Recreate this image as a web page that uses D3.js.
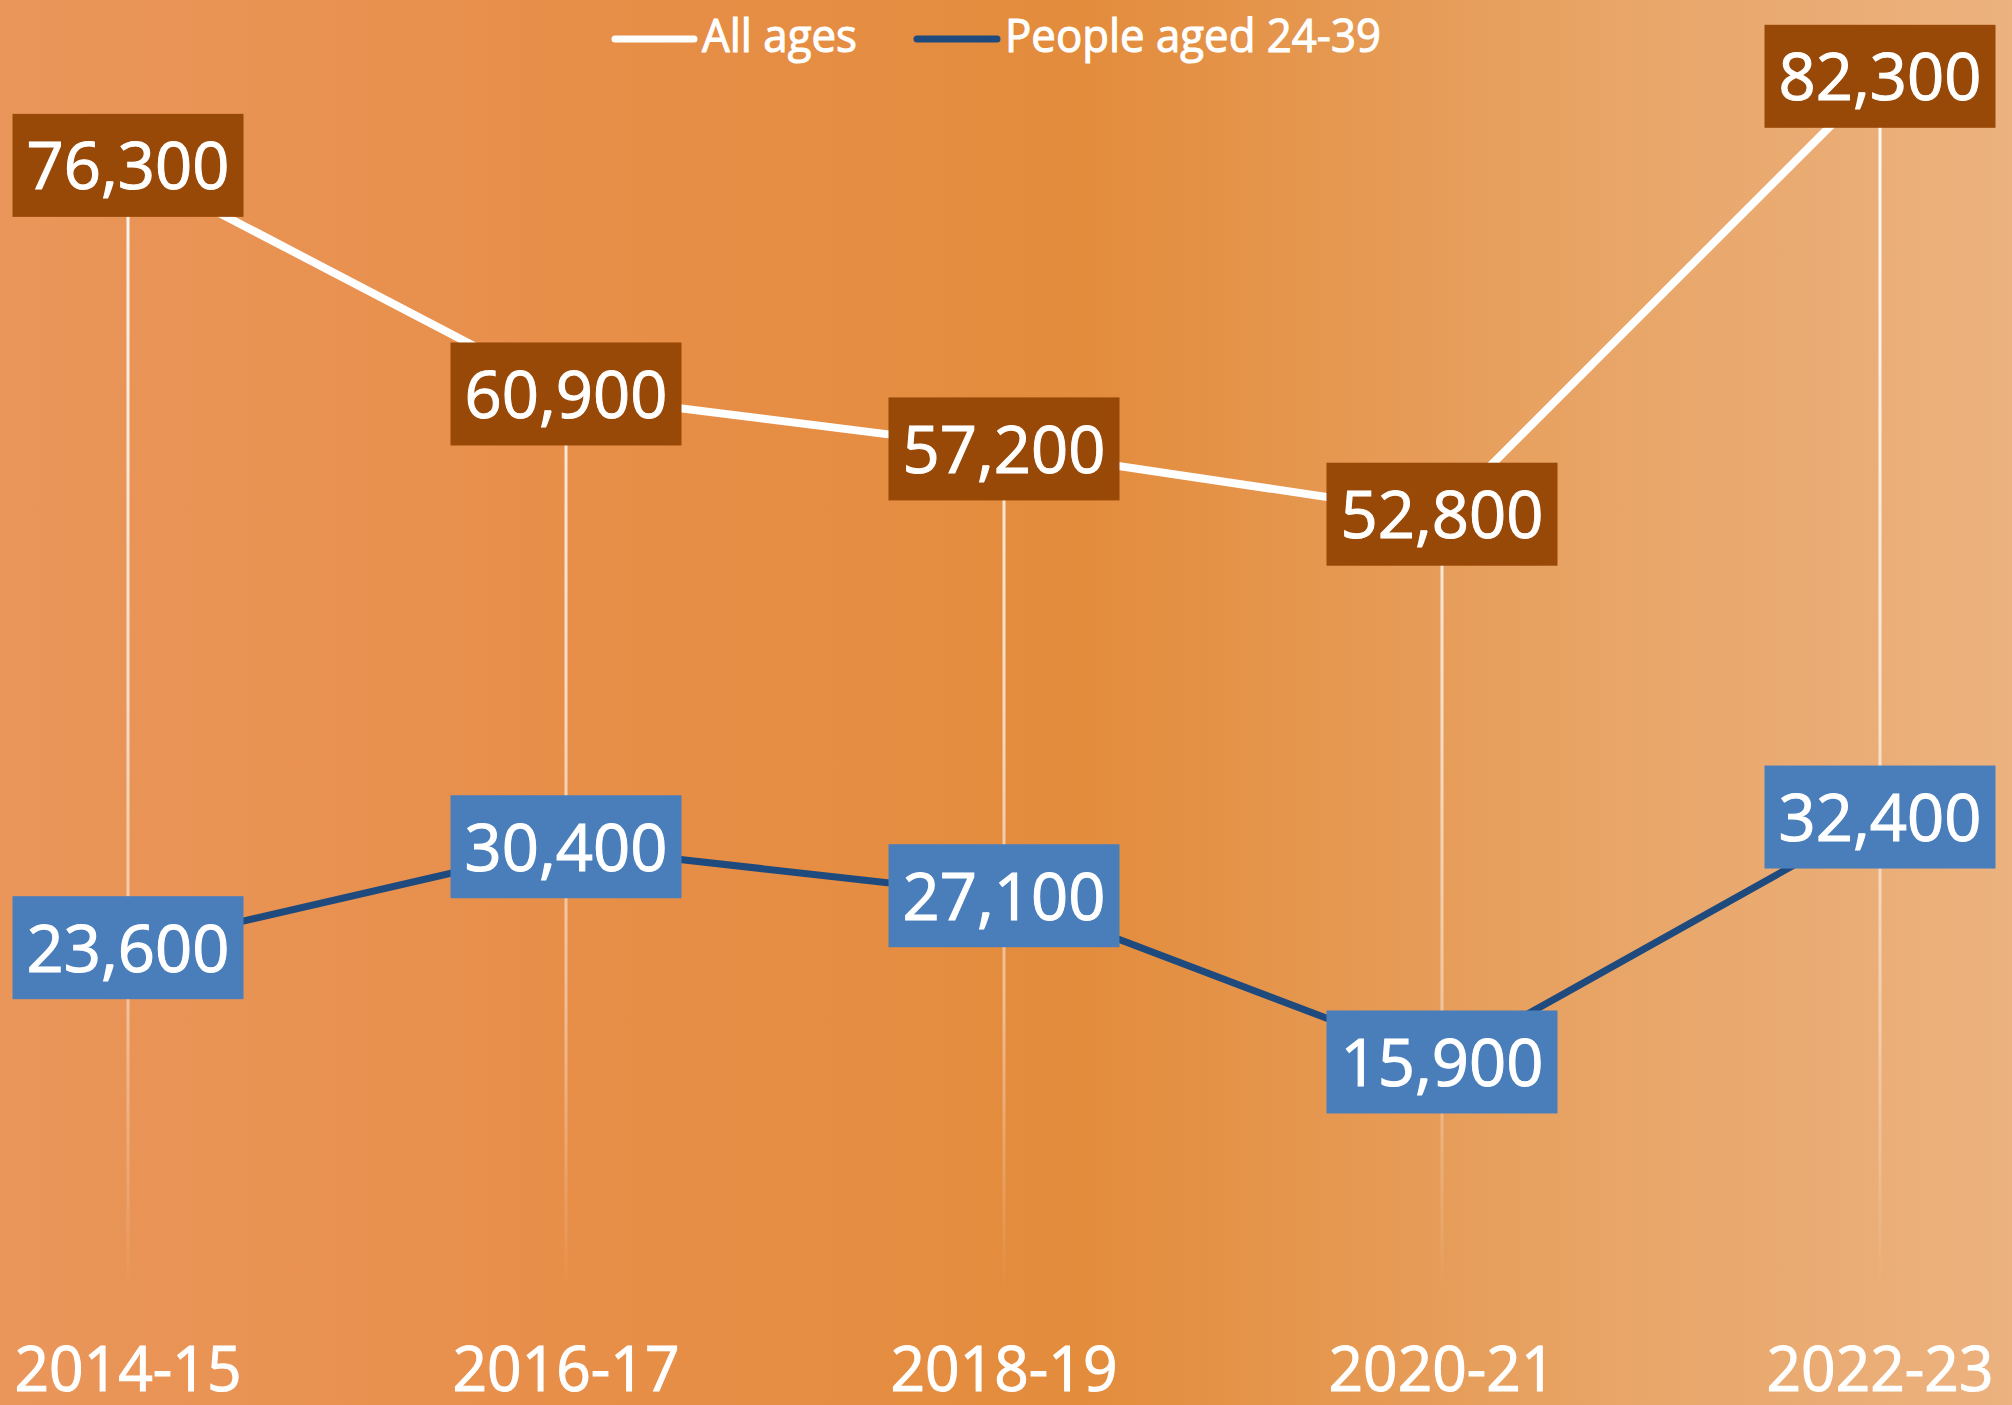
<!DOCTYPE html>
<html>
<head>
<meta charset="utf-8">
<script src="https://cdn.jsdelivr.net/npm/d3@7/dist/d3.min.js"></script>
<style>
  html, body { margin: 0; padding: 0; background: #E68E47; }
  svg { display: block; }
  text { font-family: "Open Sans", "Noto Sans", sans-serif; fill: #ffffff; font-weight: 400;
         stroke: #ffffff; stroke-width: 1.1px; paint-order: stroke; }
</style>
</head>
<body>
<script>
// ---- data ----
const categories = ["2014-15", "2016-17", "2018-19", "2020-21", "2022-23"];
const allAges = [76300, 60900, 57200, 52800, 82300];
const aged24to39 = [23600, 30400, 27100, 15900, 32400];
const seriesNames = ["All ages", "People aged 24-39"];

const W = 2012, H = 1405;
const svg = d3.select("body").append("svg").attr("width", W).attr("height", H);
const defs = svg.append("defs");

// background gradient
const bg = defs.append("linearGradient").attr("id", "bg").attr("x1", "0").attr("x2", "1").attr("y1", "0").attr("y2", "0");
[[0, "#EA965B"], [0.3, "#E78E48"], [0.54, "#E38C3C"], [0.8, "#E8A567"], [1, "#ECB27F"]]
  .forEach(([o, c]) => bg.append("stop").attr("offset", o).attr("stop-color", c));
svg.append("rect").attr("width", W).attr("height", H).attr("fill", "url(#bg)");

// drop line gradient (fades toward the bottom)
const dg = defs.append("linearGradient").attr("id", "drop").attr("gradientUnits", "userSpaceOnUse")
  .attr("x1", 0).attr("x2", 0).attr("y1", 60).attr("y2", 1290);
[[0, 0.95], [0.5, 0.7], [0.78, 0.4], [1, 0]]
  .forEach(([o, a]) => dg.append("stop").attr("offset", o).attr("stop-color", "#ffffff").attr("stop-opacity", a));

const x = d3.scalePoint().domain(categories).range([128, 1880]);
const y = d3.scaleLinear().domain([0, 90000]).range([1298, -38]);

// drop lines
svg.append("g").selectAll("rect").data(categories).join("rect")
  .attr("x", (d) => x(d) - 1.5)
  .attr("y", (d, i) => y(Math.max(allAges[i], aged24to39[i])))
  .attr("width", 3)
  .attr("height", (d, i) => y(0) - y(Math.max(allAges[i], aged24to39[i])))
  .attr("fill", "url(#drop)");

const line = d3.line().x((d, i) => x(categories[i])).y((d) => y(d));

svg.append("path").datum(aged24to39).attr("d", line)
  .attr("fill", "none").attr("stroke", "#1F4A7E").attr("stroke-width", 7).attr("stroke-linejoin", "round");
svg.append("path").datum(allAges).attr("d", line)
  .attr("fill", "none").attr("stroke", "#ffffff").attr("stroke-width", 8).attr("stroke-linejoin", "round");

// data labels
function labels(values, fill) {
  const g = svg.append("g");
  values.forEach((v, i) => {
    const cx = x(categories[i]), cy = y(v);
    const lg = g.append("g");
    const w = 231, h = 103;
    lg.append("rect").attr("fill", fill)
      .attr("x", cx - w / 2).attr("y", cy - h / 2).attr("width", w).attr("height", h);
    lg.append("text").attr("x", cx).attr("y", cy + 24)
      .attr("text-anchor", "middle").attr("font-size", 66)
      .attr("textLength", 203).attr("lengthAdjust", "spacingAndGlyphs")
      .text(d3.format(",")(v));
  });
}
labels(allAges, "#984807");
labels(aged24to39, "#4A7EBB");

// x axis labels
svg.append("g").selectAll("text").data(categories).join("text")
  .attr("x", (d) => x(d)).attr("y", 1391)
  .attr("text-anchor", "middle").attr("font-size", 62)
  .attr("textLength", 227).attr("lengthAdjust", "spacingAndGlyphs")
  .text((d) => d);

// legend
const legend = [
  { name: seriesNames[0], color: "#ffffff", x1: 612, x2: 697, tx: 702, tl: 155 },
  { name: seriesNames[1], color: "#1F4A7E", x1: 914, x2: 1000, tx: 1005, tl: 376 }
];
const lg = svg.append("g");
legend.forEach((l) => {
  lg.append("line").attr("x1", l.x1 + 3).attr("x2", l.x2 - 3).attr("y1", 39).attr("y2", 39)
    .attr("stroke", l.color).attr("stroke-width", 7).attr("stroke-linecap", "round");
  lg.append("text").attr("x", l.tx).attr("y", 52).attr("font-size", 46)
    .attr("textLength", l.tl).attr("lengthAdjust", "spacingAndGlyphs").text(l.name);
});
</script>
</body>
</html>
